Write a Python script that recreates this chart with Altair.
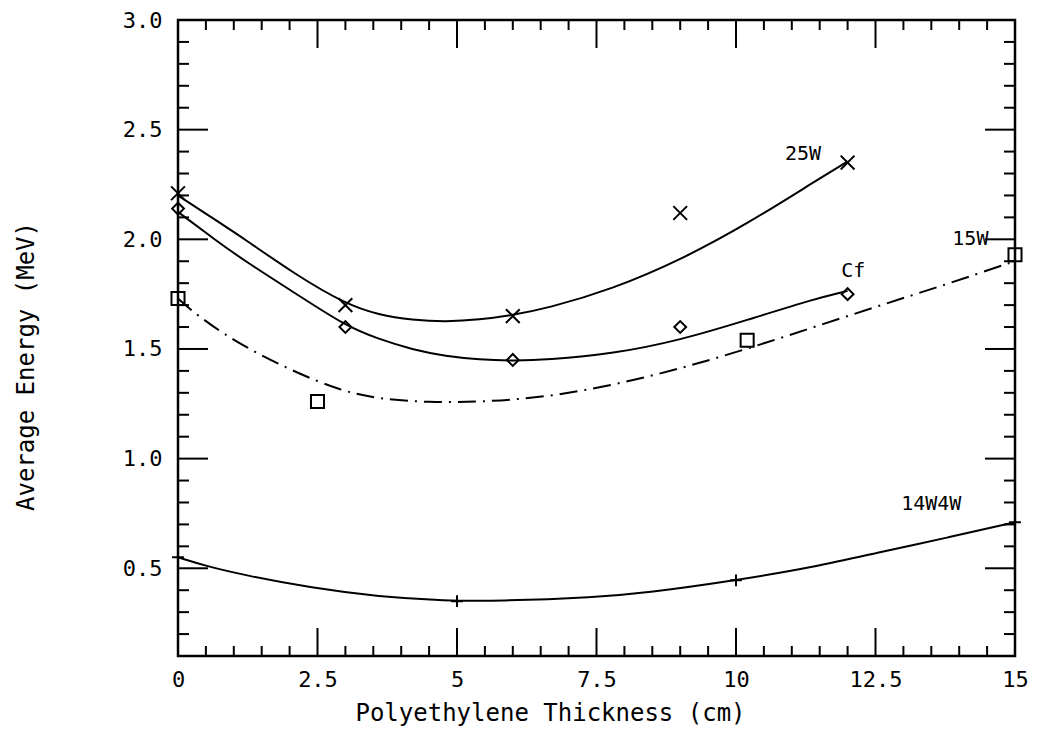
import altair as alt
import pandas as pd

# ---- measured points (markers) ----
x_25w = [0, 3, 6, 9, 12]
y_25w = [2.21, 1.70, 1.65, 2.12, 2.35]
x_cf = [0, 3, 6, 9, 12]
y_cf = [2.14, 1.60, 1.45, 1.60, 1.75]
x_15w = [0, 2.5, 10.2, 15]
y_15w = [1.73, 1.26, 1.54, 1.93]
x_14w = [0, 5, 10, 15]
y_14w = [0.55, 0.35, 0.445, 0.71]

# ---- fitted curves ----
cx_25w = [0, 0.6, 1.2, 2.1, 3.0, 3.6, 4.2, 4.8, 5.4, 6.0, 6.6, 7.8, 9.0, 10.2, 11.4, 12.0]
cy_25w = [2.20, 2.10, 2.00, 1.84, 1.705, 1.655, 1.632, 1.624, 1.633, 1.655, 1.684, 1.774, 1.905, 2.07, 2.262, 2.355]
cx_cf = [0, 0.6, 1.2, 2.1, 3.0, 3.6, 4.2, 4.8, 5.4, 6.0, 6.6, 7.8, 9.0, 10.2, 11.4, 12.0]
cy_cf = [2.125, 2.01, 1.90, 1.755, 1.605, 1.545, 1.497, 1.467, 1.452, 1.446, 1.45, 1.478, 1.54, 1.632, 1.728, 1.765]
cx_15w = [0, 0.3, 1.0, 2.0, 2.9, 3.6, 4.5, 5.4, 6.6, 7.8, 9.0, 10.2, 11.4, 12.6, 13.8, 14.85, 15.0]
cy_15w = [1.73, 1.662, 1.535, 1.405, 1.31, 1.272, 1.256, 1.258, 1.28, 1.335, 1.41, 1.50, 1.60, 1.70, 1.797, 1.888, 1.90]
cx_14w = [0, 0.5, 1.2, 2.4, 3.6, 4.8, 5.7, 7.5, 8.4, 10.0, 11.4, 12.6, 13.8, 15.0]
cy_14w = [0.55, 0.51, 0.468, 0.41, 0.37, 0.352, 0.35, 0.368, 0.388, 0.445, 0.505, 0.575, 0.64, 0.71]

# ---- curve labels ----
label_text = ["25W", "Cf", "15W", "14W4W"]
label_x = [11.2, 12.1, 14.2, 13.5]
label_y = [2.39, 1.855, 2.0, 0.795]

# ---- ticks ----
x_label_values = [0, 2.5, 5, 7.5, 10, 12.5, 15]
y_label_values = [0.5, 1.0, 1.5, 2.0, 2.5, 3.0]
x_minor = [i * 0.5 for i in range(1, 30) if i % 5 != 0]
y_minor = [round(0.1 * i, 1) for i in range(2, 30) if i % 5 != 0]

W, H = 837, 636
FONT = "DejaVu Sans Mono"

xs = alt.Scale(domain=[0, 15], nice=False, zero=False)
ys = alt.Scale(domain=[0.1, 3.0], nice=False, zero=False)

x_axis = alt.Axis(
    values=x_label_values, format=".3~g", ticks=False, tickSize=0, domain=False, grid=False,
    labelFont=FONT, labelFontSize=22, labelColor="black", labelPadding=13,
    labelFlush=False, labelOverlap=False, labelBaseline="top",
    title="Polyethylene Thickness (cm)", titleFont=FONT, titleFontSize=24,
    titleFontWeight="normal", titleColor="black", titleX=372, titleY=64,
    titleAlign="center", titleBaseline="alphabetic", titleAnchor="middle",
)
y_axis = alt.Axis(
    values=y_label_values, format=".1f", ticks=False, tickSize=0, domain=False, grid=False,
    labelFont=FONT, labelFontSize=22, labelColor="black", labelPadding=16,
    labelFlush=False, labelOverlap=False, labelBaseline="middle",
    title="Average Energy (MeV)", titleFont=FONT, titleFontSize=24,
    titleFontWeight="normal", titleColor="black", titleX=-145, titleY=346,
    titleAngle=270, titleAlign="center", titleBaseline="alphabetic",
)


def X(f):
    return alt.X(f, type="quantitative", scale=xs, axis=x_axis)


def Y(f):
    return alt.Y(f, type="quantitative", scale=ys, axis=y_axis)


def curve(cx, cy, dash=None):
    df = pd.DataFrame({"x": cx, "y": cy})
    kw = dict(color="black", strokeWidth=2, interpolate="basis", clip=True)
    if dash:
        kw["strokeDash"] = dash
    return alt.Chart(df).mark_line(**kw).encode(x=X("x"), y=Y("y"))


def markers(px, py, shape, size):
    df = pd.DataFrame({"x": px, "y": py})
    return alt.Chart(df).mark_point(
        shape=shape, size=size, filled=False, color="black", strokeWidth=2, opacity=1
    ).encode(x=X("x"), y=Y("y"))


layers = [
    curve(cx_25w, cy_25w),
    curve(cx_cf, cy_cf),
    curve(cx_15w, cy_15w, dash=[18, 7, 2, 7]),
    curve(cx_14w, cy_14w),
    markers(x_25w, y_25w, "M-1,-1L1,1M-1,1L1,-1", 190),
    markers(x_cf, y_cf, "diamond", 140),
    markers(x_15w, y_15w, "square", 170),
    markers(x_14w, y_14w, "M-1,0L1,0M0,-1L0,1", 140),
]

lab_df = pd.DataFrame({"t": label_text, "x": label_x, "y": label_y})
layers.append(
    alt.Chart(lab_df).mark_text(font=FONT, fontSize=20, color="black", align="center", baseline="middle")
    .encode(x=X("x"), y=Y("y"), text="t:N")
)

# inward ticks on all four sides
xmaj = pd.DataFrame({"v": x_label_values})
xmin = pd.DataFrame({"v": x_minor})
ymaj = pd.DataFrame({"v": y_label_values})
ymin = pd.DataFrame({"v": y_minor})

tick_style = dict(color="black", strokeWidth=2)
for df, ln in [(xmaj, 28), (xmin, 10)]:
    layers.append(alt.Chart(df).mark_rule(**tick_style).encode(x=X("v"), y=alt.value(H), y2=alt.value(H - ln)))
    layers.append(alt.Chart(df).mark_rule(**tick_style).encode(x=X("v"), y=alt.value(0), y2=alt.value(ln)))
for df, ln in [(ymaj, 30), (ymin, 11)]:
    layers.append(alt.Chart(df).mark_rule(**tick_style).encode(y=Y("v"), x=alt.value(0), x2=alt.value(ln)))
    layers.append(alt.Chart(df).mark_rule(**tick_style).encode(y=Y("v"), x=alt.value(W), x2=alt.value(W - ln)))

chart = (
    alt.layer(*layers)
    .properties(
        width=W, height=H,
        autosize=alt.AutoSizeParams(type="none"),
        padding={"left": 170, "top": 12, "right": 14, "bottom": 70},
        background="white",
    )
    .configure_view(stroke="black", strokeWidth=2.5)
    .configure_axis(grid=False)
)

chart.save("out.html", embed_options={"renderer": "svg", "actions": False})
